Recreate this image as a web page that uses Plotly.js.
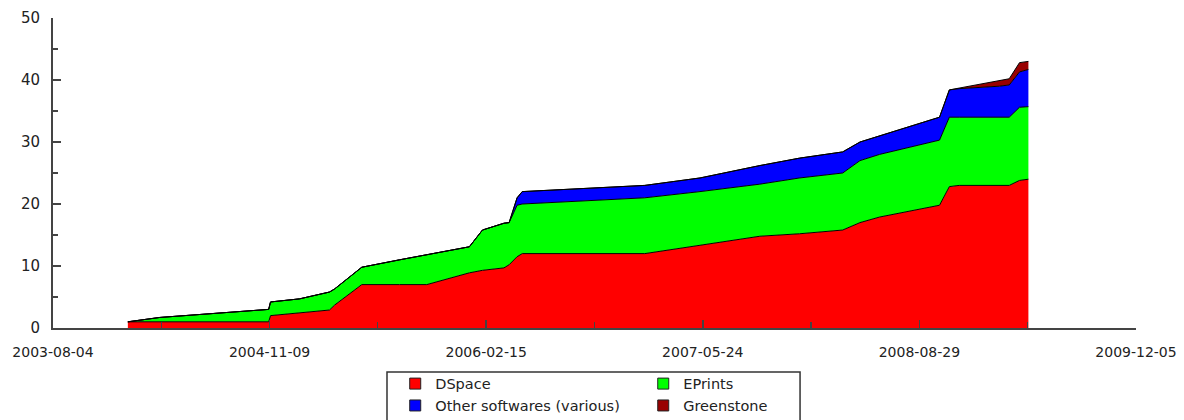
<!DOCTYPE html>
<html>
<head>
<meta charset="utf-8">
<script src="https://cdn.plot.ly/plotly-3.0.1.min.js"></script>
<style>
  html, body { margin: 0; padding: 0; background: #fff; }
  #chart { width: 1184px; height: 420px; }
</style>
</head>
<body>
<div id="chart"></div>
<script>
// ---- data ----
const dates = [
  '2004-01-11', '2004-03-19', '2004-11-07', '2004-11-11', '2005-01-12',
  '2005-03-17', '2005-03-28', '2005-05-25', '2005-08-14', '2005-10-11',
  '2006-01-10', '2006-02-07', '2006-03-25', '2006-04-05', '2006-04-22',
  '2006-05-03', '2007-01-20', '2007-05-18', '2007-09-23', '2007-12-17',
  '2008-03-18', '2008-04-24', '2008-06-05', '2008-10-11', '2008-11-01',
  '2008-11-22', '2009-02-16', '2009-03-09', '2009-03-31', '2009-04-19'
];
const dspace = [
  1, 1, 1, 2, 2.5,
  2.9, 3.7, 7, 7, 7,
  8.9, 9.3, 9.7, 10.2, 11.5,
  12, 12, 13.4, 14.8, 15.2,
  15.8, 17, 17.9, 19.8, 22.8,
  23, 23, 23, 23.8, 24
];
const eprints = [
  0, 0.7, 2, 2.2, 2.2,
  2.9, 2.6, 2.8, 4, 4.8,
  4.2, 6.5, 7.2, 6.8, 8.3,
  8, 9, 8.6, 8.4, 9,
  9.2, 10, 10.1, 10.5, 11.2,
  11, 11, 11, 11.8, 11.7
];
const others = [
  0, 0, 0, 0, 0,
  0, 0, 0, 0, 0,
  0, 0, 0, 0, 1.2,
  2, 2, 2.2, 3, 3.2,
  3.4, 3, 3, 3.7, 4.4,
  4.6, 5, 5.2, 5.7, 6
];
const greenstone = [
  0, 0, 0, 0, 0,
  0, 0, 0, 0, 0,
  0, 0, 0, 0, 0,
  0, 0, 0, 0, 0,
  0, 0, 0, 0, 0,
  0.1, 1, 1, 1.5, 1.3
];
const seriesNames = ['DSpace', 'EPrints', 'Other softwares (various)', 'Greenstone'];
const seriesColors = ['#ff0000', '#00ff00', '#0000ff', '#990000'];
const xTickVals = ['2003-08-04', '2004-11-09', '2006-02-15', '2007-05-24', '2008-08-29', '2009-12-05'];
const yTickVals = [0, 10, 20, 30, 40, 50];

// ---- traces ----
const seriesValues = [dspace, eprints, others, greenstone];
const traces = seriesValues.map((vals, i) => ({
  type: 'scatter',
  mode: 'lines',
  x: dates,
  y: vals,
  stackgroup: 'repos',
  line: { color: '#000', width: 1 },
  fillcolor: seriesColors[i],
  name: seriesNames[i],
  showlegend: false,
  hoverinfo: 'x+y+name'
}));

// legend entries (square swatches), two columns
const legendOf = ['legend', 'legend2', 'legend', 'legend2'];
const legendOrder = [0, 2, 1, 3];
legendOrder.forEach(i => {
  traces.push({
    type: 'scatter',
    mode: 'markers',
    x: [null],
    y: [null],
    name: seriesNames[i],
    legend: legendOf[i],
    marker: { symbol: 'square', size: 11, color: seriesColors[i], line: { color: '#222', width: 1 } },
    showlegend: true,
    hoverinfo: 'skip'
  });
});

const axisColor = '#444';
const tickFont = { family: 'DejaVu Sans, sans-serif', size: 14, color: '#222' };
const legendFont = { family: 'DejaVu Sans, sans-serif', size: 14.5, color: '#222' };

const layout = {
  width: 1184,
  height: 420,
  margin: { l: 53, r: 48, t: 18, b: 92, pad: 0, autoexpand: false },
  paper_bgcolor: '#fff',
  plot_bgcolor: '#fff',
  showlegend: true,
  xaxis: {
    type: 'date',
    range: [xTickVals[0], xTickVals[xTickVals.length - 1]],
    tickmode: 'array',
    tickvals: xTickVals,
    ticktext: xTickVals,
    ticks: 'inside',
    ticklen: 8,
    tickwidth: 1.5,
    tickcolor: axisColor,
    ticklabelstandoff: 10,
    showline: true,
    linecolor: axisColor,
    linewidth: 2,
    showgrid: false,
    zeroline: false,
    automargin: false,
    tickfont: tickFont,
    minor: { tick0: '2003-08-04', dtick: 231.5 * 86400000, ticks: 'inside', ticklen: 6, tickwidth: 1.2, tickcolor: axisColor, showgrid: false }
  },
  yaxis: {
    range: [0, 50],
    tickmode: 'array',
    tickvals: yTickVals,
    ticks: 'inside',
    ticklen: 8,
    tickwidth: 1.5,
    tickcolor: axisColor,
    ticklabelstandoff: 8,
    showline: true,
    linecolor: axisColor,
    linewidth: 2,
    showgrid: false,
    zeroline: false,
    automargin: false,
    tickfont: { family: 'DejaVu Sans, sans-serif', size: 15, color: '#222' },
    minor: { dtick: 5, ticks: 'inside', ticklen: 5, tickwidth: 1.2, tickcolor: axisColor, showgrid: false }
  },
  legend: {
    x: 0.316, y: -0.128, xanchor: 'left', yanchor: 'top',
    orientation: 'v', traceorder: 'normal', tracegroupgap: 0,
    bgcolor: 'rgba(0,0,0,0)', borderwidth: 0, font: legendFont
  },
  legend2: {
    x: 0.545, y: -0.128, xanchor: 'left', yanchor: 'top',
    orientation: 'v', traceorder: 'normal', tracegroupgap: 0,
    bgcolor: 'rgba(0,0,0,0)', borderwidth: 0, font: legendFont
  },
  shapes: [{
    type: 'rect', xref: 'paper', yref: 'paper',
    x0: 0.3084, x1: 0.6898, y0: -0.1419, y1: -0.33,
    line: { color: '#333', width: 1.5 }, fillcolor: 'rgba(0,0,0,0)', layer: 'below'
  }]
};

Plotly.newPlot('chart', traces, layout, { displayModeBar: false, staticPlot: true });
</script>
</body>
</html>
